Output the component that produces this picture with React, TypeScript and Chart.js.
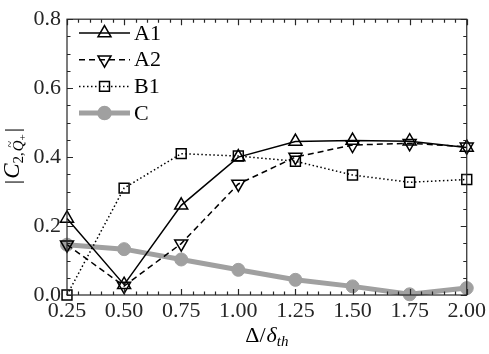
import React, { useEffect, useRef } from 'react';
import { Chart, registerables } from 'chart.js';

Chart.register(...registerables);

const xValues = [0.25, 0.5, 0.75, 1.0, 1.25, 1.5, 1.75, 2.0];
const seriesA1 = [0.222, 0.03, 0.26, 0.4, 0.445, 0.448, 0.446, 0.428];
const seriesA2 = [0.146, 0.026, 0.149, 0.322, 0.4, 0.435, 0.44, 0.43];
const seriesB1 = [0.0, 0.31, 0.41, 0.403, 0.388, 0.348, 0.327, 0.335];
const seriesC = [0.146, 0.133, 0.103, 0.073, 0.044, 0.025, 0.002, 0.02];
const seriesNames = ['A1', 'A2', 'B1', 'C'];
const xTickLabels = ['0.25', '0.50', '0.75', '1.00', '1.25', '1.50', '1.75', '2.00'];
const yTickLabels = ['0.0', '0.2', '0.4', '0.6', '0.8'];

const SERIF = '"Liberation Serif", "DejaVu Serif", serif';
const GREY = 'rgb(160,160,160)';

type Run = { t: string; size: number; italic?: boolean; dy?: number; tilde?: boolean; dx?: number };

function drawRuns(ctx: CanvasRenderingContext2D, runs: Run[], cx: number, baseY: number) {
  let total = 0;
  for (const r of runs) {
    ctx.font = `${r.italic ? 'italic ' : ''}${r.size}px ${SERIF}`;
    total += ctx.measureText(r.t).width + (r.dx || 0);
  }
  let x = cx - total / 2;
  ctx.textBaseline = 'alphabetic';
  ctx.textAlign = 'left';
  for (const r of runs) {
    ctx.font = `${r.italic ? 'italic ' : ''}${r.size}px ${SERIF}`;
    const w = ctx.measureText(r.t).width;
    ctx.fillText(r.t, x, baseY + (r.dy || 0));
    if (r.tilde) {
      ctx.font = `${Math.round(r.size * 0.8)}px ${SERIF}`;
      const tw = ctx.measureText('~').width;
      ctx.fillText('~', x + w / 2 - tw / 2 + 1.5, baseY + (r.dy || 0) - r.size * 0.6);
    }
    x += w + (r.dx || 0);
  }
}

function drawPoint(ctx: CanvasRenderingContext2D, style: string, r: number, x: number, y: number, rot: number, fill: boolean) {
  ctx.beginPath();
  if (style === 'circle') {
    ctx.arc(x, y, r, 0, Math.PI * 2);
  } else if (style === 'rect') {
    const s = Math.SQRT1_2 * r;
    ctx.rect(x - s, y - s, 2 * s, 2 * s);
  } else {
    const a = (rot * Math.PI) / 180;
    for (let i = 0; i < 3; i++) {
      const ang = a + (i * 2 * Math.PI) / 3;
      const px = x + Math.sin(ang) * r;
      const py = y - Math.cos(ang) * r;
      if (i === 0) ctx.moveTo(px, py);
      else ctx.lineTo(px, py);
    }
    ctx.closePath();
  }
  if (fill) ctx.fill();
  ctx.stroke();
}

const framePlugin = {
  id: 'framePlugin',
  afterDatasetsDraw(chart: any) {
    const ctx: CanvasRenderingContext2D = chart.ctx;
    const { left, right, top, bottom } = chart.chartArea;
    const xs = chart.scales.x;
    const ys = chart.scales.y;
    ctx.save();
    // legend
    const legendItems = [
      { dash: [] as number[], color: '#000', lw: 1.5, style: 'triangle', rot: 0, r: 7.5, fill: false },
      { dash: [6, 4], color: '#000', lw: 1.5, style: 'triangle', rot: 180, r: 7.5, fill: false },
      { dash: [1.5, 2.5], color: '#000', lw: 1.5, style: 'rect', rot: 0, r: 7, fill: false },
      { dash: [] as number[], color: GREY, lw: 5, style: 'circle', rot: 0, r: 6.5, fill: true },
    ];
    const lx0 = 79, lx1 = 130, ly0 = 33, lstep = 26.7;
    legendItems.forEach((it, i) => {
      const y = ly0 + i * lstep;
      ctx.save();
      ctx.strokeStyle = it.color;
      ctx.lineWidth = it.lw;
      ctx.setLineDash(it.dash);
      ctx.beginPath();
      ctx.moveTo(lx0, y);
      ctx.lineTo(lx1, y);
      ctx.stroke();
      ctx.setLineDash([]);
      ctx.lineWidth = 1.5;
      ctx.fillStyle = it.color;
      ctx.strokeStyle = it.color;
      drawPoint(ctx, it.style, it.r, (lx0 + lx1) / 2, y, it.rot, it.fill);
      ctx.restore();
      ctx.fillStyle = '#000';
      ctx.font = `22px ${SERIF}`;
      ctx.textBaseline = 'middle';
      ctx.textAlign = 'left';
      ctx.fillText(seriesNames[i], 134, y + 1);
    });

    // frame
    ctx.strokeStyle = '#262626';
    ctx.lineWidth = 1.2;
    ctx.strokeRect(left, top, right - left, bottom - top);
    // ticks
    ctx.beginPath();
    for (let k = 0; k <= 35; k++) {
      const v = 0.25 + k * 0.05;
      const px = Math.round(xs.getPixelForValue(v)) + 0.5;
      const len = k % 5 === 0 ? 6 : 3.5;
      ctx.moveTo(px, bottom);
      ctx.lineTo(px, bottom - len);
      ctx.moveTo(px, top);
      ctx.lineTo(px, top + len);
    }
    for (let k = 0; k <= 16; k++) {
      const v = k * 0.05;
      const py = Math.round(ys.getPixelForValue(v)) + 0.5;
      const len = k % 4 === 0 ? 6 : 3.5;
      ctx.moveTo(left, py);
      ctx.lineTo(left + len, py);
      ctx.moveTo(right, py);
      ctx.lineTo(right - len, py);
    }
    ctx.stroke();

    // axis titles
    ctx.fillStyle = '#000';
    drawRuns(ctx, [
      { t: 'Δ', size: 22 },
      { t: '/', size: 22, dx: 1 },
      { t: 'δ', size: 22, italic: true },
      { t: 'th', size: 15, italic: true, dy: 4 },
    ], (left + right) / 2, 342);

    ctx.save();
    ctx.translate(19, 156);
    ctx.rotate(-Math.PI / 2);
    drawRuns(ctx, [
      { t: '|', size: 22, dx: 1 },
      { t: 'C', size: 23, italic: true },
      { t: '2,', size: 15, dy: 4, dx: 1 },
      { t: 'Q', size: 15, italic: true, dy: 4, tilde: true },
      { t: '+', size: 11, dy: 7, dx: 2 },
      { t: '|', size: 22 },
    ], 0, 0);
    ctx.restore();
    ctx.restore();
  },
};

export default function App() {
  const ref = useRef<HTMLCanvasElement | null>(null);
  useEffect(() => {
    if (!ref.current) return;
    const mk = (d: number[]) => xValues.map((x, i) => ({ x, y: d[i] }));
    const chart = new Chart(ref.current, {
      type: 'line',
      data: {
        datasets: [
          {
            label: 'A1', data: mk(seriesA1), borderColor: '#000', borderWidth: 1.5, clip: false,
            pointStyle: 'triangle', pointRadius: 7.5, pointBorderWidth: 1.5,
            pointBackgroundColor: 'rgba(0,0,0,0)', pointBorderColor: '#000',
          },
          {
            label: 'A2', data: mk(seriesA2), borderColor: '#000', borderWidth: 1.5, borderDash: [6, 4], clip: false,
            pointStyle: 'triangle', pointRotation: 180, pointRadius: 7.5, pointBorderWidth: 1.5,
            pointBackgroundColor: 'rgba(0,0,0,0)', pointBorderColor: '#000',
          },
          {
            label: 'B1', data: mk(seriesB1), borderColor: '#000', borderWidth: 1.5, borderDash: [1.5, 2.5], clip: false,
            pointStyle: 'rect', pointRadius: 7, pointBorderWidth: 1.5,
            pointBackgroundColor: 'rgba(0,0,0,0)', pointBorderColor: '#000',
          },
          {
            label: 'C', data: mk(seriesC), borderColor: GREY, borderWidth: 5, clip: false,
            pointStyle: 'circle', pointRadius: 6.5, pointBorderWidth: 1,
            pointBackgroundColor: GREY, pointBorderColor: GREY,
          },
        ],
      },
      options: {
        animation: false,
        responsive: false,
        maintainAspectRatio: false,
        layout: { padding: { top: 9, right: 18, left: 0, bottom: 0 } },
        plugins: { legend: { display: false }, tooltip: { enabled: false } },
        elements: { line: { tension: 0 } },
        scales: {
          x: {
            type: 'linear', min: 0.25, max: 2.0,
            grid: { display: false, drawTicks: false },
            border: { display: false },
            afterBuildTicks: (s: any) => { s.ticks = xValues.map((v) => ({ value: v })); },
            ticks: {
              padding: 3, color: '#262626', font: { family: SERIF, size: 22 },
              maxRotation: 0, autoSkip: false,
              callback: (_v: any, i: number) => xTickLabels[i],
            },
            afterFit: (s: any) => { s.height = 59; },
          },
          y: {
            type: 'linear', min: 0, max: 0.8,
            grid: { display: false, drawTicks: false },
            border: { display: false },
            afterBuildTicks: (s: any) => { s.ticks = yTickLabels.map((t) => ({ value: parseFloat(t) })); },
            ticks: {
              padding: 6, color: '#262626', font: { family: SERIF, size: 22 },
              autoSkip: false,
              callback: (_v: any, i: number) => yTickLabels[i],
            },
            afterFit: (s: any) => { s.width = 67; },
          },
        },
      },
      plugins: [framePlugin],
    });
    return () => chart.destroy();
  }, []);
  return (
    <div style={{ position: 'fixed', left: 0, top: 0, width: 489, height: 354, background: '#fff' }}>
      <canvas ref={ref} width={489} height={354} style={{ width: 489, height: 354 }} />
    </div>
  );
}
